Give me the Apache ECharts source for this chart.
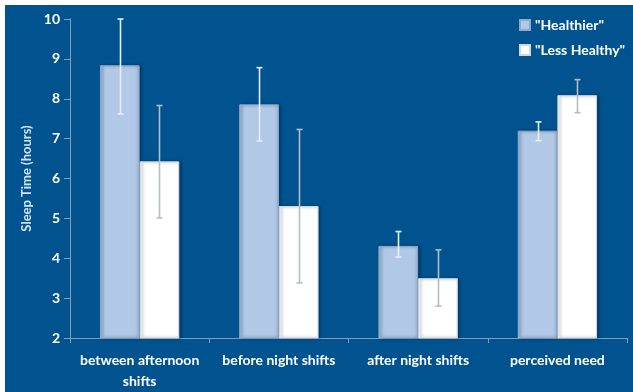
<!DOCTYPE html>
<html>
<head>
<meta charset="utf-8">
<script src="https://cdn.jsdelivr.net/npm/echarts@6/dist/echarts.min.js"></script>
<style>
  html, body { margin: 0; padding: 0; background: #ffffff; }
  #wrap { position: absolute; left: 5px; top: 5px; width: 628px; height: 387px; background: #01538f; }
  #chart { width: 628px; height: 387px; }
</style>
</head>
<body>
<div id="wrap"><div id="chart"></div></div>
<script>
// Sleep time by shift context, with error ranges
const categories = ['between afternoon\nshifts', 'before night shifts', 'after night shifts', 'perceived need'];
const seriesNames = ['"Healthier"', '"Less Healthy"'];
const healthier = [8.84, 7.86, 4.31, 7.20];
const healthierLow = [7.62, 6.94, 4.03, 6.95];
const healthierHigh = [10.0, 8.78, 4.67, 7.42];
const lessHealthy = [6.43, 5.31, 3.50, 8.09];
const lessLow = [5.01, 3.38, 2.80, 7.65];
const lessHigh = [7.83, 7.23, 4.21, 8.48];
const yTicks = { min: 2, max: 10, interval: 1 };

const BAR_FRAC = 0.285;
const FONT = 'Lato, "Liberation Sans", sans-serif';

function errorSeries(low, high, side, color) {
  return {
    type: 'custom',
    z: 10,
    silent: true,
    data: low.map((l, i) => [i, l, high[i]]),
    renderItem: function (params, api) {
      const idx = api.value(0);
      const band = api.size([1, 0])[0];
      const bw = band * BAR_FRAC;
      const lowPt = api.coord([idx, api.value(1)]);
      const highPt = api.coord([idx, api.value(2)]);
      const x = Math.round(lowPt[0] + side * bw / 2) + 0.5;
      const cap = 3;
      const style = { stroke: color, lineWidth: 1.6 };
      return {
        type: 'group',
        children: [
          { type: 'line', shape: { x1: x, y1: highPt[1], x2: x, y2: lowPt[1] }, style },
          { type: 'line', shape: { x1: x - cap, y1: highPt[1], x2: x + cap, y2: highPt[1] }, style },
          { type: 'line', shape: { x1: x - cap, y1: lowPt[1], x2: x + cap, y2: lowPt[1] }, style }
        ]
      };
    }
  };
}

const chart = echarts.init(document.getElementById('chart'));
chart.setOption({
  backgroundColor: '#01538f',
  animation: false,
  grid: { left: 65, right: 6, top: 14, bottom: 50 },
  legend: {
    orient: 'vertical',
    left: 509,
    top: 8,
    itemWidth: 10,
    itemHeight: 10,
    itemGap: 11,
    icon: 'rect',
    textStyle: { color: '#ffffff', fontFamily: FONT, fontWeight: 'bold', fontSize: 14 },
    data: seriesNames
  },
  xAxis: {
    type: 'category',
    data: categories,
    axisLine: { lineStyle: { color: '#8a9cb2', width: 1 } },
    axisTick: { show: true, length: 5, lineStyle: { color: '#8a9cb2' } },
    axisLabel: {
      color: '#ffffff', fontFamily: FONT, fontWeight: 'bold', fontSize: 14,
      margin: 12, lineHeight: 21, interval: 0
    }
  },
  yAxis: {
    type: 'value',
    min: yTicks.min,
    max: yTicks.max,
    interval: yTicks.interval,
    name: 'Sleep Time (hours)',
    nameLocation: 'middle',
    nameRotate: 90,
    nameGap: 36,
    nameTextStyle: { color: '#d6e4f2', fontFamily: FONT, fontWeight: 'bold', fontSize: 13 },
    axisLine: { show: true, lineStyle: { color: '#8a9cb2', width: 1 } },
    axisTick: { show: true, length: 6, lineStyle: { color: '#8a9cb2' } },
    splitLine: { show: false },
    axisLabel: { color: '#ffffff', fontFamily: FONT, fontWeight: 'bold', fontSize: 14, margin: 10 }
  },
  series: [
    {
      name: seriesNames[0],
      type: 'bar',
      data: healthier,
      barWidth: (BAR_FRAC * 100) + '%',
      barGap: '0%',
      itemStyle: {
        color: new echarts.graphic.LinearGradient(0, 0, 1, 0, [
          { offset: 0, color: '#9fb8d8' },
          { offset: 0.12, color: '#b1c9e6' },
          { offset: 0.88, color: '#b1c9e6' },
          { offset: 1, color: '#9ab3d3' }
        ]),
        borderColor: '#8fa9cb',
        borderWidth: 1,
        shadowColor: 'rgba(0,20,50,0.45)',
        shadowBlur: 3,
        shadowOffsetX: 2
      }
    },
    {
      name: seriesNames[1],
      type: 'bar',
      data: lessHealthy,
      barWidth: (BAR_FRAC * 100) + '%',
      barGap: '0%',
      itemStyle: {
        color: '#ffffff',
        borderColor: '#d4d8dd',
        borderWidth: 1,
        shadowColor: 'rgba(0,20,50,0.45)',
        shadowBlur: 3,
        shadowOffsetX: 2
      }
    },
    errorSeries(healthierLow, healthierHigh, -1, '#e6eef8'),
    errorSeries(lessLow, lessHigh, 1, '#b4bcc6')
  ]
});
</script>
</body>
</html>
